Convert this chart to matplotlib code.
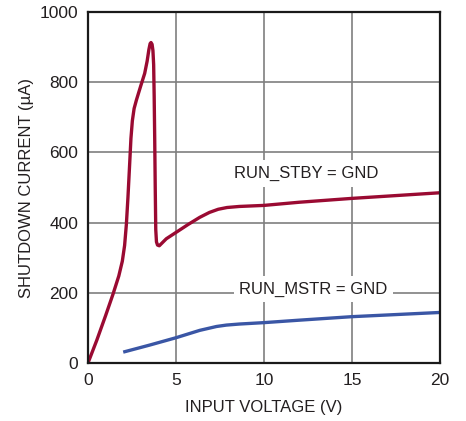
import matplotlib
matplotlib.use("Agg")
import matplotlib.pyplot as plt

# Data
stby_v = [0, 0.5, 1.0, 1.42, 1.75, 1.95, 2.08, 2.18, 2.27, 2.36, 2.44, 2.52, 2.62, 2.75,
          3.0, 3.22, 3.36, 3.46, 3.53, 3.58, 3.64, 3.69, 3.73, 3.76, 3.79, 3.82, 3.85,
          3.89, 3.95, 4.05, 4.45, 5.0, 5.7, 6.35, 6.9, 7.4, 7.9, 8.6, 10, 12, 15, 20]
stby_i = [0, 65, 135, 196, 248, 290, 335, 395, 472, 560, 640, 690, 725, 749,
          790, 825, 860, 893, 910, 913, 908, 890, 850, 760, 640, 500, 380,
          345, 336, 334, 354, 372, 395, 415, 429, 438, 443, 446, 449, 458, 469, 485]
mstr_v = [2.0, 3.5, 5.0, 6.35, 7.3, 7.86, 8.6, 10, 12, 15, 20]
mstr_i = [31, 51, 72, 93, 104, 108, 111, 115, 122, 132, 144]

x_ticks = [0, 5, 10, 15, 20]
y_ticks = [0, 200, 400, 600, 800, 1000]

plt.rcParams['font.family'] = ['Liberation Sans', 'DejaVu Sans']

fig = plt.figure(figsize=(4.66, 4.21), dpi=100)
ax = fig.add_axes([88/466, 1-363/421, (440-88)/466, (363-12)/421])

ax.set_xlim(0, 20)
ax.set_ylim(0, 1000)
ax.set_xticks(x_ticks)
ax.set_yticks(y_ticks)
ax.grid(True, color='#7f7f7f', linewidth=1.2)
ax.set_axisbelow(True)
ax.tick_params(length=0, labelsize=12.5, colors='#231f20', pad=7)
for s in ax.spines.values():
    s.set_linewidth(1.6)
    s.set_color('#1a1a1a')

ax.plot(stby_v, stby_i, color='#9a0a32', linewidth=2.4, solid_joinstyle='round', solid_capstyle='round')
ax.plot(mstr_v, mstr_i, color='#3a56a5', linewidth=2.4, solid_capstyle='butt', solid_joinstyle='round')

bbox = dict(facecolor='white', edgecolor='none', pad=4)
ax.text(12.4, 540, 'RUN_STBY = GND', ha='center', va='center', fontsize=12, color='#231f20', bbox=bbox)
ax.text(12.8, 211, 'RUN_MSTR = GND', ha='center', va='center', fontsize=12, color='#231f20', bbox=bbox)

ax.set_xlabel('INPUT VOLTAGE (V)', fontsize=12, color='#231f20', labelpad=9)
ax.set_ylabel('SHUTDOWN CURRENT (µA)', fontsize=12, color='#231f20', labelpad=4)

fig.savefig('out.png', dpi=100)
